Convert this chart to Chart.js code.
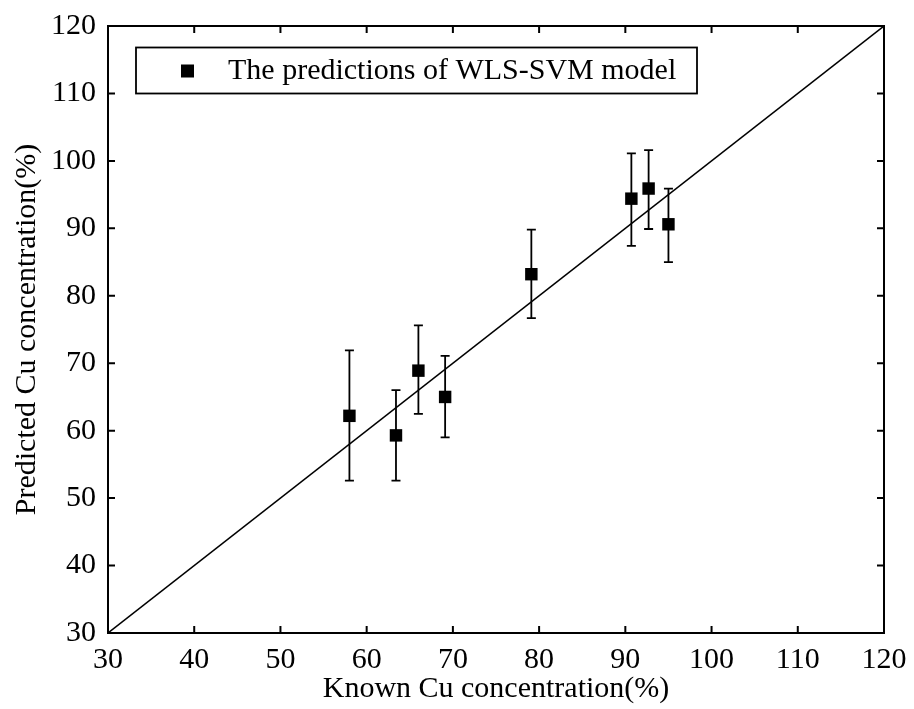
<!DOCTYPE html>
<html>
<head>
<meta charset="utf-8">
<script src="https://cdn.jsdelivr.net/npm/chart.js@4.4.1/dist/chart.umd.min.js"></script>
<style>
    html, body { margin: 0; padding: 0; background: #fff; }
    #wrap { width: 914px; height: 709px; }
</style>
</head>
<body>
<div id="wrap"><canvas id="scatterChart"></canvas></div>
<script>
// values
const knownCu     = [58.0, 63.4, 66.0, 69.1, 79.1, 90.7, 92.7, 95.0];
const predictedCu = [62.2, 59.3, 68.9, 65.0, 83.2, 94.4, 95.9, 90.6];
const errLow      = [52.6, 52.6, 62.5, 59.0, 76.7, 87.4, 89.9, 85.0];
const errHigh     = [71.9, 66.0, 75.6, 71.1, 89.8, 101.1, 101.6, 95.9];
const idealLine   = [30, 120];
const axisMin = 30, axisMax = 120, axisStep = 10;

const serif = 'Liberation Serif, Times New Roman, serif';

// error bars, frame with inward ticks, legend box
const decorations = {
    id: 'decorations',
    beforeDatasetsDraw(chart) {
        const { ctx, scales: { x, y } } = chart;
        ctx.save();
        ctx.strokeStyle = '#000';
        ctx.lineWidth = 1.8;
        knownCu.forEach((k, i) => {
            const px = x.getPixelForValue(k);
            const top = y.getPixelForValue(errHigh[i]);
            const bot = y.getPixelForValue(errLow[i]);
            ctx.beginPath();
            ctx.moveTo(px, top); ctx.lineTo(px, bot);
            ctx.moveTo(px - 4.5, top); ctx.lineTo(px + 4.5, top);
            ctx.moveTo(px - 4.5, bot); ctx.lineTo(px + 4.5, bot);
            ctx.stroke();
        });
        ctx.restore();
    },
    afterDraw(chart) {
        const { ctx, chartArea: a, scales: { x, y } } = chart;
        ctx.save();
        ctx.strokeStyle = '#000';
        ctx.lineWidth = 2;
        ctx.strokeRect(a.left, a.top, a.right - a.left, a.bottom - a.top);
        const tl = 7;
        ctx.beginPath();
        x.ticks.forEach(t => {
            const px = x.getPixelForValue(t.value);
            ctx.moveTo(px, a.bottom); ctx.lineTo(px, a.bottom - tl);
            ctx.moveTo(px, a.top); ctx.lineTo(px, a.top + tl);
        });
        y.ticks.forEach(t => {
            const py = y.getPixelForValue(t.value);
            ctx.moveTo(a.left, py); ctx.lineTo(a.left + tl, py);
            ctx.moveTo(a.right, py); ctx.lineTo(a.right - tl, py);
        });
        ctx.stroke();

        // legend
        ctx.lineWidth = 1.8;
        ctx.strokeRect(136, 47.5, 561, 46);
        ctx.fillStyle = '#000';
        ctx.fillRect(181, 64.5, 13, 13);
        ctx.font = '30px ' + serif;
        ctx.textBaseline = 'middle';
        ctx.textAlign = 'left';
        ctx.fillText(chart.data.datasets[0].label, 228, 71);
        ctx.restore();
    }
};

new Chart(document.getElementById('scatterChart'), {
    type: 'scatter',
    data: {
        datasets: [
            {
                label: 'The predictions of WLS-SVM model',
                data: knownCu.map((k, i) => ({ x: k, y: predictedCu[i] })),
                pointStyle: 'rect',
                pointRadius: 8.8,
                backgroundColor: '#000',
                borderColor: '#000',
                borderWidth: 0,
            },
            {
                label: 'y = x',
                data: idealLine.map(v => ({ x: v, y: v })),
                showLine: true,
                pointRadius: 0,
                borderColor: '#000',
                borderWidth: 1.5,
            }
        ]
    },
    options: {
        responsive: true,
        maintainAspectRatio: false,
        animation: false,
        layout: { padding: { left: 0, top: 26, right: 30, bottom: 0 } },
        plugins: {
            legend: { display: false },
            tooltip: { enabled: false }
        },
        scales: {
            x: {
                type: 'linear',
                min: axisMin, max: axisMax,
                grid: { display: false, drawTicks: false },
                border: { display: false },
                ticks: { stepSize: axisStep, color: '#000', padding: 9, font: { family: serif, size: 30 } },
                title: {
                    display: true, text: 'Known Cu concentration(%)', color: '#000',
                    font: { family: serif, size: 30 }, padding: { top: 0, bottom: 2 }
                },
                afterFit: s => { s.height = 76; s.paddingLeft = 0; s.paddingRight = 0; }
            },
            y: {
                type: 'linear',
                min: axisMin, max: axisMax,
                grid: { display: false, drawTicks: false },
                border: { display: false },
                ticks: { stepSize: axisStep, color: '#000', padding: 12, font: { family: serif, size: 30 } },
                title: {
                    display: true, text: 'Predicted Cu concentration(%)', color: '#000',
                    font: { family: serif, size: 30 }, padding: { top: 9, bottom: 0 }
                },
                afterFit: s => { s.width = 108; s.paddingTop = 0; s.paddingBottom = 0; }
            }
        }
    },
    plugins: [decorations]
});
</script>
</body>
</html>
